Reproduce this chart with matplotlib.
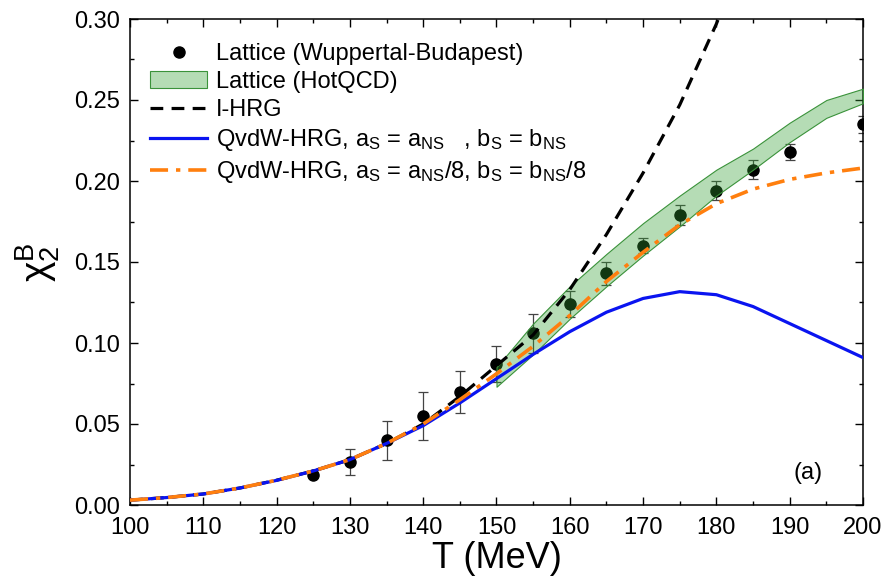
import matplotlib
matplotlib.use("Agg")
import matplotlib.pyplot as plt
from matplotlib.ticker import MultipleLocator, FormatStrFormatter

plt.rcParams['font.family'] = ['Liberation Sans', 'DejaVu Sans']
plt.rcParams['mathtext.fontset'] = 'custom'
plt.rcParams['mathtext.rm'] = 'Liberation Sans'
plt.rcParams['mathtext.it'] = 'Liberation Sans:italic'

# Lattice (Wuppertal-Budapest)
T_wb = [125, 130, 135, 140, 145, 150, 155, 160, 165, 170, 175, 180, 185, 190, 200]
chi_wb = [0.0185, 0.0267, 0.040, 0.055, 0.070, 0.087, 0.106, 0.124, 0.143, 0.160,
          0.179, 0.194, 0.207, 0.218, 0.235]
err_wb = [0.001, 0.008, 0.012, 0.015, 0.013, 0.011, 0.012, 0.008, 0.007, 0.0047,
          0.006, 0.006, 0.006, 0.005, 0.0052]

# Lattice (HotQCD) band
T_hot = [150, 155, 160, 165, 170, 175, 180, 185, 190, 195, 200]
hot_lo = [0.073, 0.093, 0.115, 0.135, 0.154, 0.172, 0.191, 0.207, 0.224, 0.239, 0.248]
hot_hi = [0.085, 0.112, 0.135, 0.155, 0.174, 0.191, 0.207, 0.220, 0.236, 0.250, 0.257]

# model curves
T_id = [100, 105, 110, 115, 120, 125, 130, 135, 140, 145, 150, 155, 160, 165, 170, 175, 180, 185]
chi_id = [0.003, 0.0046, 0.0068, 0.0105, 0.0153, 0.021, 0.028, 0.038, 0.050, 0.067,
          0.086, 0.105, 0.133, 0.167, 0.205, 0.247, 0.297, 0.355]

T_mod = [100, 105, 110, 115, 120, 125, 130, 135, 140, 145, 150, 155, 160, 165, 170,
         175, 180, 185, 190, 195, 200]
chi_qvdw = [0.003, 0.0046, 0.0068, 0.0105, 0.0152, 0.021, 0.028, 0.038, 0.049, 0.063,
            0.078, 0.093, 0.107, 0.119, 0.1275, 0.1317, 0.1298, 0.1225, 0.112, 0.1015, 0.091]
chi_qvdw8 = [0.003, 0.0046, 0.0068, 0.0105, 0.0153, 0.021, 0.028, 0.038, 0.050, 0.065,
             0.081, 0.098, 0.117, 0.138, 0.156, 0.173, 0.186, 0.195, 0.201, 0.205, 0.208]

fig = plt.figure(figsize=(8.87, 5.82), dpi=100)
ax = fig.add_axes([130/887, 1 - 505/582, (863 - 130)/887, (505 - 19)/582])

h_wb = ax.errorbar(T_wb, chi_wb, yerr=err_wb, fmt='o', color='black', ms=8,
                   ecolor='#444444', elinewidth=0.9, capsize=3.5, capthick=0.9, zorder=2)
h_hot = ax.fill_between(T_hot, hot_lo, hot_hi, facecolor=(0.2, 0.62, 0.2, 0.36),
                        edgecolor='#3a923a', linewidth=0.8, zorder=3)
h_id, = ax.plot(T_id, chi_id, color='black', ls=(0, (4, 2.6)), lw=2.3, zorder=4)
h_q1, = ax.plot(T_mod, chi_qvdw, color='#0a14f0', lw=2.3, zorder=5)
h_q8, = ax.plot(T_mod, chi_qvdw8, color='#ff7f0e', lw=2.6, ls=(0, (5, 2.2, 1.2, 2.2)),
                zorder=6)

labels = ['Lattice (Wuppertal-Budapest)', 'Lattice (HotQCD)', 'I-HRG',
          r'QvdW-HRG, a$_\mathrm{S}$ = a$_\mathrm{NS}$   , b$_\mathrm{S}$ = b$_\mathrm{NS}$',
          r'QvdW-HRG, a$_\mathrm{S}$ = a$_\mathrm{NS}$/8, b$_\mathrm{S}$ = b$_\mathrm{NS}$/8']
ax.legend([h_wb[0], h_hot, h_id, h_q1, h_q8], labels,
          loc='upper left', bbox_to_anchor=(0.005, 0.985), frameon=False, fontsize=17,
          handlelength=2.4, handletextpad=0.4, labelspacing=0.26, borderaxespad=0.3)

ax.set_xlim(100, 200)
ax.set_ylim(0, 0.30)
ax.xaxis.set_major_locator(MultipleLocator(10))
ax.xaxis.set_minor_locator(MultipleLocator(5))
ax.yaxis.set_major_locator(MultipleLocator(0.05))
ax.yaxis.set_minor_locator(MultipleLocator(0.025))
ax.yaxis.set_major_formatter(FormatStrFormatter('%.2f'))
ax.tick_params(which='both', direction='in', top=True, right=True, width=1.0)
ax.tick_params(which='major', length=5.5, labelsize=17, pad=7)
ax.tick_params(axis='x', which='major', pad=9)
ax.tick_params(which='minor', length=3)
for s in ax.spines.values():
    s.set_linewidth(1.1)

ax.set_xlabel('T (MeV)', fontsize=26, labelpad=1)
ax.set_ylabel(r'$\mathrm{χ}_{2}^{\mathrm{B}}$', fontsize=28, labelpad=9)

ax.text(192.5, 0.020, '(a)', fontsize=17, ha='center', va='center')

fig.savefig('out.png', dpi=100)
